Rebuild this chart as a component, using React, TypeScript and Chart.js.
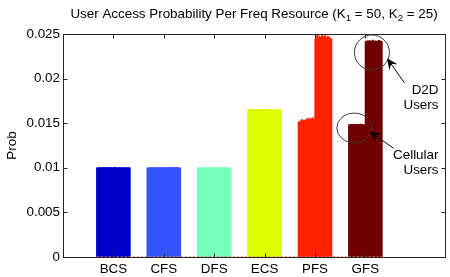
import React, { useEffect, useRef } from 'react';
import { Chart, registerables } from 'chart.js';

Chart.register(...registerables);

const categories = ['BCS', 'CFS', 'DFS', 'ECS', 'PFS', 'GFS'];
const groupColors = ['#0000cc', '#3355ff', '#77ffbb', '#ddff00', '#ff2200', '#700000'];
const yTickValues = [0, 0.005, 0.01, 0.015, 0.02, 0.025];
const yTickLabels = ['0', '0.005', '0.01', '0.015', '0.02', '0.025'];
const yAxisTitle = 'Prob';
const titleParts = [
  { text: 'User Access Probability Per Freq Resource (K', sub: false },
  { text: '1', sub: true },
  { text: ' = 50, K', sub: false },
  { text: '2', sub: true },
  { text: ' = 25)', sub: false },
];

const bcsValues = [
  0.01002, 0.01005, 0.00999, 0.01003, 0.01007, 0.01001, 0.01000, 0.01004, 0.01006, 0.01002,
  0.01001, 0.01008, 0.01003, 0.00998, 0.01005, 0.01002, 0.01006, 0.01001, 0.01004, 0.01000,
  0.01009, 0.01003, 0.01005, 0.01000, 0.01002, 0.01005, 0.01010, 0.01004, 0.01001, 0.01006,
  0.01003, 0.00999, 0.01005, 0.01002, 0.01004, 0.01007, 0.01001, 0.01003, 0.01000, 0.01005,
  0.01002, 0.01006, 0.01000, 0.01004, 0.01003, 0.01001, 0.01005, 0.00999, 0.01002, 0.01004,
];
const cfsValues = [
  0.01001, 0.01003, 0.01000, 0.01004, 0.01002, 0.01006, 0.01001, 0.00999, 0.01003, 0.01005,
  0.01002, 0.01000, 0.01004, 0.01007, 0.01001, 0.01003, 0.01002, 0.01005, 0.01000, 0.01004,
  0.01006, 0.01002, 0.01001, 0.01003, 0.01005, 0.01002, 0.01004, 0.01000, 0.01006, 0.01003,
  0.01001, 0.01005, 0.01002, 0.01004, 0.01003, 0.01008, 0.01002, 0.01004, 0.01006, 0.01003,
  0.01005, 0.01002, 0.01004, 0.01009, 0.01003, 0.01005, 0.01002, 0.01004, 0.01001, 0.01003,
];
const dfsValues = [
  0.01000, 0.01002, 0.01001, 0.01003, 0.01000, 0.01002, 0.01004, 0.01001, 0.01002, 0.01000,
  0.01003, 0.01001, 0.01002, 0.01004, 0.01000, 0.01002, 0.01001, 0.01003, 0.01005, 0.01001,
  0.01002, 0.01000, 0.01003, 0.01002, 0.01001, 0.01004, 0.01002, 0.01000, 0.01003, 0.01001,
  0.01002, 0.01004, 0.01001, 0.01003, 0.01002, 0.01000, 0.01002, 0.01003, 0.01001, 0.01002,
  0.01004, 0.01001, 0.01003, 0.01002, 0.01000, 0.01002, 0.01001, 0.01003, 0.01002, 0.01001,
];
const ecsValues = [
  0.01652, 0.01655, 0.01650, 0.01657, 0.01653, 0.01660, 0.01654, 0.01651, 0.01656, 0.01653,
  0.01658, 0.01652, 0.01655, 0.01661, 0.01654, 0.01650, 0.01656, 0.01653, 0.01657, 0.01652,
  0.01655, 0.01659, 0.01653, 0.01651, 0.01656, 0.01654, 0.01652, 0.01657, 0.01655, 0.01650,
  0.01653, 0.01656, 0.01652, 0.01654, 0.01651, 0.01655, 0.01653, 0.01650, 0.01654, 0.01652,
  0.01656, 0.01653, 0.01651, 0.01655, 0.01652, 0.01654, 0.01650, 0.01653, 0.01656, 0.01652,
];
const pfsValues = [
  0.01515, 0.01522, 0.01508, 0.01530, 0.01518, 0.01545, 0.01512, 0.01527, 0.01535, 0.01516,
  0.01540, 0.01520, 0.01552, 0.01528, 0.01537, 0.01562, 0.01531, 0.01548, 0.01525, 0.01557,
  0.01538, 0.01566, 0.01542, 0.01529, 0.01550,
  0.02445, 0.02470, 0.02432, 0.02490, 0.02455, 0.02438, 0.02482, 0.02450, 0.02466, 0.02428,
  0.02498, 0.02460, 0.02440, 0.02475, 0.02452, 0.02487, 0.02436, 0.02462, 0.02448, 0.02478,
  0.02442, 0.02468, 0.02434, 0.02456, 0.02446,
];
const gfsValues = [
  0.01485, 0.01488, 0.01483, 0.01490, 0.01486, 0.01484, 0.01489, 0.01487, 0.01485, 0.01492,
  0.01486, 0.01483, 0.01488, 0.01485, 0.01490, 0.01487, 0.01484, 0.01495, 0.01486, 0.01489,
  0.01485, 0.01487, 0.01484, 0.01488, 0.01486,
  0.02418, 0.02424, 0.02414, 0.02428, 0.02421, 0.02416, 0.02431, 0.02420, 0.02425, 0.02415,
  0.02422, 0.02436, 0.02418, 0.02423, 0.02417, 0.02427, 0.02420, 0.02415, 0.02424, 0.02419,
  0.02433, 0.02421, 0.02416, 0.02425, 0.02418,
];
const seriesValues = [bcsValues, cfsValues, dfsValues, ecsValues, pfsValues, gfsValues];

const annotationTexts = [
  { text: 'D2D', x: 7.45, y: 0.01872 },
  { text: 'Users', x: 7.45, y: 0.01704 },
  { text: 'Cellular', x: 7.45, y: 0.01143 },
  { text: 'Users', x: 7.45, y: 0.00975 },
];
const annotationEllipses = [
  { x: 6.13, y: 0.02293, rx: 17.5, ry: 17.5 },
  { x: 5.78, y: 0.01447, rx: 17.5, ry: 14.8 },
];
const annotationArrows = [
  { x1: 6.773, y1: 0.01954, x2: 6.43, y2: 0.02228 },
  { x1: 6.56, y1: 0.01219, x2: 6.085, y2: 0.01405 },
];

const FONT = "'Liberation Sans', Arial, Helvetica, sans-serif";
const FS = 13.4;
const GROUP_WIDTH = 0.66;
const X_MIN = 0;
const X_MAX = 7.58;

const decorPlugin = {
  id: 'matlabDecor',
  afterDatasetsDraw(chart: any) {
    const { ctx, chartArea: a, scales } = chart;
    const xs = scales.x;
    const ys = scales.y;
    ctx.save();
    const L = Math.round(a.left) + 0.5;
    const T = Math.round(a.top) + 0.5;
    const R = Math.round(a.right) + 0.5;
    const B = Math.round(a.bottom) + 0.5;
    ctx.strokeStyle = '#262626';
    ctx.lineWidth = 1;
    ctx.strokeRect(L, T, R - L, B - T);
    ctx.beginPath();
    for (const v of yTickValues) {
      const py = Math.round(ys.getPixelForValue(v)) + 0.5;
      ctx.moveTo(L, py); ctx.lineTo(L + 4, py);
      ctx.moveTo(R, py); ctx.lineTo(R - 4, py);
    }
    categories.forEach((_, i) => {
      const px = Math.round(xs.getPixelForValue(i + 1)) + 0.5;
      ctx.moveTo(px, T); ctx.lineTo(px, T + 4);
      ctx.moveTo(px, B); ctx.lineTo(px, B - 4);
    });
    ctx.stroke();

    // ellipses
    ctx.strokeStyle = '#3a3a3a';
    for (const e of annotationEllipses) {
      ctx.beginPath();
      ctx.ellipse(xs.getPixelForValue(e.x), ys.getPixelForValue(e.y), e.rx, e.ry, 0, 0, Math.PI * 2);
      ctx.stroke();
    }
    // arrows
    ctx.strokeStyle = '#000';
    ctx.fillStyle = '#000';
    for (const ar of annotationArrows) {
      const x1 = xs.getPixelForValue(ar.x1), y1 = ys.getPixelForValue(ar.y1);
      const x2 = xs.getPixelForValue(ar.x2), y2 = ys.getPixelForValue(ar.y2);
      const ang = Math.atan2(y2 - y1, x2 - x1);
      const len = 11, half = 5, back = 7;
      const cos = Math.cos(ang), sin = Math.sin(ang);
      const bx = x2 - len * cos, by = y2 - len * sin;
      const nx = x2 - back * cos, ny = y2 - back * sin;
      ctx.beginPath();
      ctx.moveTo(x1, y1); ctx.lineTo(nx, ny);
      ctx.stroke();
      ctx.beginPath();
      ctx.moveTo(x2, y2);
      ctx.lineTo(bx - half * sin, by + half * cos);
      ctx.lineTo(nx, ny);
      ctx.lineTo(bx + half * sin, by - half * cos);
      ctx.closePath();
      ctx.fill();
    }
    // texts
    ctx.font = `${FS}px ${FONT}`;
    ctx.textAlign = 'right';
    ctx.textBaseline = 'middle';
    ctx.fillStyle = '#000';
    for (const t of annotationTexts) {
      ctx.fillText(t.text, xs.getPixelForValue(t.x), ys.getPixelForValue(t.y));
    }
    ctx.restore();
  },
  afterDraw(chart: any) {
    const { ctx, chartArea: a } = chart;
    ctx.save();
    const mainFont = `${FS}px ${FONT}`;
    const subFont = `${FS * 0.72}px ${FONT}`;
    let total = 0;
    const widths = titleParts.map((p) => {
      ctx.font = p.sub ? subFont : mainFont;
      const w = ctx.measureText(p.text).width;
      total += w;
      return w;
    });
    let x = (a.left + a.right) / 2 - total / 2;
    const base = 17.5;
    ctx.fillStyle = '#000';
    ctx.textAlign = 'left';
    ctx.textBaseline = 'alphabetic';
    titleParts.forEach((p, i) => {
      ctx.font = p.sub ? subFont : mainFont;
      ctx.fillText(p.text, x, p.sub ? base + 3 : base);
      x += widths[i];
    });
    ctx.restore();
  },
};

export default function App() {
  const canvasRef = useRef<HTMLCanvasElement | null>(null);

  useEffect(() => {
    document.body.style.margin = '0';
    const canvas = canvasRef.current;
    if (!canvas) return;
    const datasets: any[] = seriesValues.map((vals, g) => {
      const step = GROUP_WIDTH / vals.length;
      const start = g + 1 - GROUP_WIDTH / 2;
      return {
        type: 'bar',
        label: categories[g],
        data: vals.map((v, i) => ({ x: start + (i + 0.5) * step, y: v })),
        backgroundColor: groupColors[g],
        borderWidth: 0,
        borderSkipped: false,
        grouped: false,
        barPercentage: 3,
        categoryPercentage: 1,
        order: 2,
      };
    });
    datasets.push({
      type: 'line',
      label: 'baseline',
      data: [
        { x: 1 - GROUP_WIDTH / 2, y: 0 },
        { x: categories.length + GROUP_WIDTH / 2, y: 0 },
      ],
      borderColor: '#e0806a',
      borderWidth: 1.5,
      borderDash: [2, 2],
      pointRadius: 0,
      order: 1,
    });

    const chart = new Chart(canvas, {
      type: 'bar',
      data: { datasets },
      options: {
        animation: false,
        responsive: true,
        maintainAspectRatio: false,
        layout: { padding: { top: 34, right: 5, left: 0, bottom: 0 } },
        plugins: { legend: { display: false }, tooltip: { enabled: false }, title: { display: false } },
        scales: {
          x: {
            type: 'linear',
            min: X_MIN,
            max: X_MAX,
            offset: false,
            grid: { display: false, drawTicks: false },
            border: { display: false },
            ticks: {
              autoSkip: false,
              maxRotation: 0,
              padding: 4,
              color: '#000',
              font: { family: FONT, size: FS },
              callback: (v: any) => categories[Math.round(v) - 1] ?? '',
            },
            afterBuildTicks: (scale: any) => {
              scale.ticks = categories.map((_, i) => ({ value: i + 1 }));
            },
            afterFit: (scale: any) => { scale.height = 20; },
          },
          y: {
            type: 'linear',
            min: 0,
            max: 0.025,
            grid: { display: false, drawTicks: false },
            border: { display: false },
            ticks: {
              padding: 3,
              color: '#000',
              font: { family: FONT, size: FS },
              callback: (v: any) => {
                const idx = yTickValues.findIndex((t) => Math.abs(t - v) < 1e-9);
                return idx >= 0 ? yTickLabels[idx] : '';
              },
            },
            afterBuildTicks: (scale: any) => {
              scale.ticks = yTickValues.map((v) => ({ value: v }));
            },
            afterFit: (scale: any) => { scale.width = 63; },
            title: {
              display: true,
              text: yAxisTitle,
              color: '#000',
              font: { family: FONT, size: FS },
              padding: { top: 4, bottom: 0 },
            },
          },
        },
      },
      plugins: [decorPlugin],
    });
    return () => chart.destroy();
  }, []);

  return (
    <div style={{ width: 450, height: 277, position: 'relative' }}>
      <canvas ref={canvasRef} />
    </div>
  );
}
